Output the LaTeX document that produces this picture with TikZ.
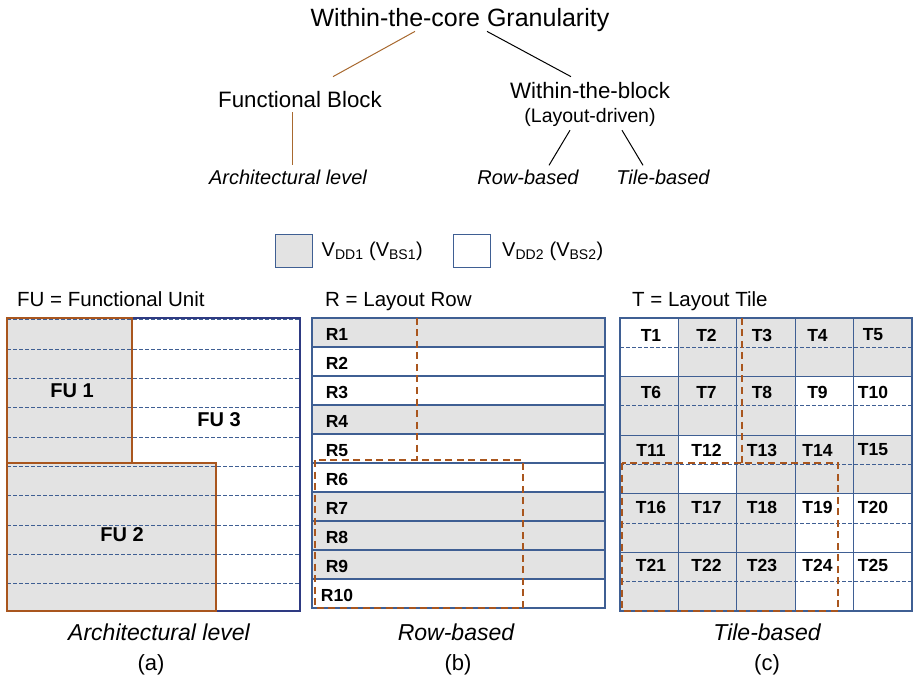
\documentclass[tikz,border=0pt]{standalone}
\usepackage{fontspec}
\setmainfont{Liberation Sans}
\usetikzlibrary{positioning}
\definecolor{cellgrey}{HTML}{E3E3E3}
\definecolor{gridblue}{HTML}{3F5F93}
\definecolor{framenavy}{HTML}{2E3A82}
\definecolor{fubrown}{HTML}{A9561E}
\definecolor{treebrown}{HTML}{A8692F}
\tikzset{
  treetext/.style={font=\fontsize{22.3}{25}\selectfont, inner sep=1pt, anchor=base},
  leaftext/.style={font=\fontsize{20}{23}\selectfont\itshape, inner sep=1pt, anchor=base},
  celllabel/.style={font=\fontsize{17.5}{20}\selectfont\bfseries, inner sep=0pt},
  fulabel/.style={font=\fontsize{20}{23}\selectfont\bfseries, inner sep=0pt},
  headtext/.style={font=\fontsize{20.5}{23}\selectfont, anchor=base west, inner sep=0pt},
  captext/.style={font=\fontsize{23}{26}\selectfont\itshape, inner sep=0pt, anchor=base},
  subcap/.style={font=\fontsize{22}{25}\selectfont, inner sep=0pt, anchor=base},
  legendbox/.style={draw=gridblue, line width=1pt, minimum width=37pt, minimum height=33pt, inner sep=0pt},
  legendtext/.style={font=\fontsize{20}{23}\selectfont, inner sep=0pt, right=9pt of #1},
  gridline/.style={draw=gridblue, line width=1.1pt},
  rowdash/.style={draw=gridblue, line width=1pt, dash pattern=on 4pt off 2pt},
  cutline/.style={draw=fubrown, line width=2.2pt, dash pattern=on 7pt off 4.5pt},
  fuborder/.style={draw=fubrown, line width=1.8pt},
}
\begin{document}
\begin{tikzpicture}[x=1pt, y=-1pt]
\useasboundingbox (0,0) rectangle (914,679);
% granularity tree
\node[treetext, font=\fontsize{25}{28}\selectfont] (core) at (460,27) {Within-the-core Granularity};
\node[treetext] (fblock) at (300,108) {Functional Block};
\node[treetext] (wblock) at (590,99) {Within-the-block};
\node[font=\fontsize{19.5}{22}\selectfont, inner sep=1pt, anchor=base] (layout) at (590,123) {(Layout-driven)};
\node[leaftext] (arch) at (288,185) {Architectural level};
\node[leaftext] (rowb) at (528,185) {Row-based};
\node[leaftext] (tileb) at (663,185) {Tile-based};
\draw[treebrown, line width=1pt] ([xshift=-45pt,yshift=2pt]core.south) -- ([xshift=33pt,yshift=14pt]fblock.north);
\draw[line width=1pt] ([xshift=27pt,yshift=2pt]core.south) -- ([xshift=-19pt,yshift=5pt]wblock.north);
\draw[treebrown, line width=1pt] ([xshift=-8pt,yshift=-3pt]fblock.south) -- ([xshift=4pt,yshift=4pt]arch.north);
\draw[line width=1pt] ([xshift=-20pt,yshift=-2pt]layout.south) -- ([xshift=21pt,yshift=4pt]rowb.north);
\draw[line width=1pt] ([xshift=32pt,yshift=-2pt]layout.south) -- ([xshift=-20pt,yshift=4pt]tileb.north);
% legend
\node[legendbox, fill=cellgrey] (vdd1box) at (293.5,251.5) {};
\node[legendtext=vdd1box] (vdd1) {V\textsubscript{DD1} (V\textsubscript{BS1})};
\node[legendbox, fill=white] (vdd2box) at (472,251.5) {};
\node[legendtext=vdd2box, right=11pt of vdd2box] (vdd2) {V\textsubscript{DD2} (V\textsubscript{BS2})};
% (a) functional units
\node[headtext] (fuhead) at (17,307) {FU = Functional Unit};
\fill[cellgrey] (7,318) rectangle (132,463);
\fill[cellgrey] (7,463) rectangle (216,611);
\foreach \i in {0,...,9}
  \draw[rowdash] (7,{320+29.3*\i}) -- (300,{320+29.3*\i});
\draw[framenavy, line width=1.5pt] (7,318) rectangle (300,611);
\draw[fuborder] (7,318) rectangle (132,463);
\draw[fuborder] (7,463) rectangle (216,611);
\node[fulabel] (fu1) at (72,391) {FU 1};
\node[fulabel] (fu2) at (122,535) {FU 2};
\node[fulabel] (fu3) at (219,420) {FU 3};
\node[captext] (capa) at (159,640) {Architectural level};
\node[subcap] (suba) at (151,670) {(a)};
% (b) layout rows
\node[headtext] (rowhead) at (325,307) {R = Layout Row};
\foreach \r/\f in {1/cellgrey,2/white,3/white,4/cellgrey,5/white,6/white,7/cellgrey,8/cellgrey,9/cellgrey,10/white} {
  \fill[\f] (312,{318+29*(\r-1)}) rectangle (605,{318+29*\r});
  \node[celllabel] (r\r) at (337,{334.5+29*(\r-1)}) {R\r};
}
\foreach \r in {1,...,9}
  \draw[gridline] (312,{318+29*\r}) -- (605,{318+29*\r});
\draw[gridline, line width=1.5pt] (312,318) rectangle (605,608);
\draw[cutline] (417,318) -- (417,460);
\draw[cutline] (315,460) rectangle (523,608);
\node[captext] (capb) at (456,640) {Row-based};
\node[subcap] (subb) at (458,670) {(b)};
% (c) layout tiles
\node[headtext] (tilehead) at (632,307) {T = Layout Tile};
\foreach \n/\f in {1/white,2/cellgrey,3/cellgrey,4/cellgrey,5/cellgrey,
                   6/cellgrey,7/cellgrey,8/cellgrey,9/white,10/white,
                   11/cellgrey,12/white,13/cellgrey,14/cellgrey,15/cellgrey,
                   16/cellgrey,17/cellgrey,18/cellgrey,19/white,20/white,
                   21/cellgrey,22/cellgrey,23/cellgrey,24/white,25/white} {
  \pgfmathtruncatemacro\col{mod(\n-1,5)}
  \pgfmathtruncatemacro\row{(\n-1)/5}
  \fill[\f] ({620+58.4*\col},{318+58.6*\row}) rectangle ++(58.4,58.6);
  \node[celllabel] (t\n) at ({651+55.5*\col},{335+57.5*\row}) {T\n};
}
\foreach \i in {0,...,4}
  \draw[rowdash] (620,{347.3+58.6*\i}) -- (912,{347.3+58.6*\i});
\foreach \i in {1,...,4} {
  \draw[gridline] ({620+58.4*\i},318) -- ({620+58.4*\i},611);
  \draw[gridline] (620,{318+58.6*\i}) -- (912,{318+58.6*\i});
}
\draw[gridline, line width=1.5pt] (620,318) rectangle (912,611);
\draw[cutline] (742,318) -- (742,463);
\draw[cutline] (622,463) rectangle (838,611);
\node[captext] (capc) at (767,640) {Tile-based};
\node[subcap] (subc) at (767,670) {(c)};
\end{tikzpicture}
\end{document}
